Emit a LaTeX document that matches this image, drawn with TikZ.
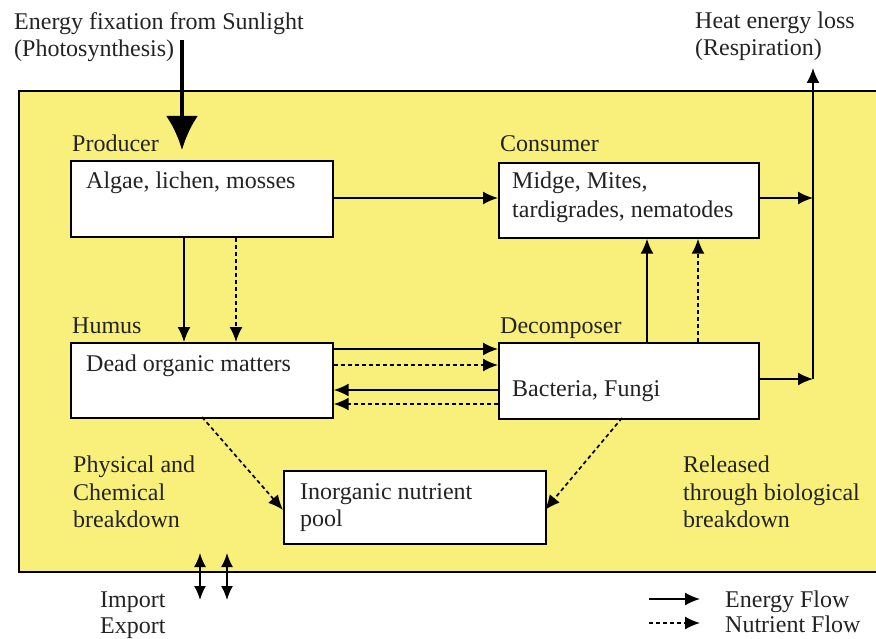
\documentclass[tikz,border=0pt]{standalone}
\usepackage{fontspec}
\setmainfont{Liberation Serif}
\usetikzlibrary{arrows.meta}
\definecolor{bgyellow}{RGB}{248,240,122}
\definecolor{txt}{RGB}{35,35,35}
\begin{document}
\begin{tikzpicture}[x=1pt,y=-1pt,
  box/.style={draw=black, line width=1.7pt, fill=white, anchor=north west, inner sep=0pt},
  lbl/.style={anchor=base west, inner sep=0pt, text=txt, font=\fontsize{24}{28}\selectfont},
  en/.style={line width=1.7pt, -{Latex[length=15pt,width=13pt]}},
  nu/.style={en, dash pattern=on 4pt off 3pt},
  ie/.style={line width=1.7pt, {Latex[length=14pt,width=12pt]}-{Latex[length=14pt,width=12pt]}},
]
\useasboundingbox (0,0) rectangle (876,639);
% background panel
\fill[bgyellow] (19,91) rectangle (876,572);
\draw[line width=1.6pt] (876,91) -- (19,91) -- (19,572) -- (876,572);

% boxes
\node[box, minimum width=262pt, minimum height=76pt] (prod) at (70,160) {};
\node[box, minimum width=260pt, minimum height=75pt] (cons) at (498,162) {};
\node[box, minimum width=262pt, minimum height=75pt] (hum) at (70,342) {};
\node[box, minimum width=260pt, minimum height=76pt] (dec) at (498,342) {};
\node[box, minimum width=262pt, minimum height=73pt] (pool) at (283,470) {};

% texts
\node[lbl] (t1) at (14,30) {Energy fixation from Sunlight};
\node[lbl] (t2) at (14,57) {(Photosynthesis)};
\node[lbl] (t3) at (695,29) {Heat energy loss};
\node[lbl] (t4) at (695,56) {(Respiration)};
\node[lbl] (lprod) at (72,152) {Producer};
\node[lbl] (lcons) at (500,152) {Consumer};
\node[lbl] (lhum) at (72,333) {Humus};
\node[lbl] (ldec) at (500,333) {Decomposer};
\node[lbl] (tprod) at (86,189) {Algae, lichen, mosses};
\node[lbl] (tcons1) at (512,189) {Midge, Mites,};
\node[lbl] (tcons2) at (512,218) {tardigrades, nematodes};
\node[lbl] (thum) at (86,371) {Dead organic matters};
\node[lbl] (tdec) at (512,396) {Bacteria, Fungi};
\node[lbl] (tpool1) at (300,499) {Inorganic nutrient};
\node[lbl] (tpool2) at (300,526) {pool};
\node[lbl] (p1) at (73,472) {Physical and};
\node[lbl] (p2) at (73,500) {Chemical};
\node[lbl] (p3) at (73,527) {breakdown};
\node[lbl] (r1) at (683,472) {Released};
\node[lbl] (r2) at (683,500) {through biological};
\node[lbl] (r3) at (683,527) {breakdown};
\node[lbl] (imp) at (100,607) {Import};
\node[lbl] (exp) at (100,633) {Export};
\node[lbl] (lg1) at (725,607) {Energy Flow};
\node[lbl] (lg2) at (725,632) {Nutrient Flow};

% helper coordinates
\coordinate (sunA) at (182,40);
\coordinate (sunB) at (182,150);
\coordinate (xa) at (184,0);
\coordinate (xb) at (236,0);
\coordinate (xc) at (647,0);
\coordinate (xd) at (698,0);
\coordinate (ya) at (0,198);
\coordinate (y1) at (0,349);
\coordinate (y2) at (0,365);
\coordinate (y3) at (0,390);
\coordinate (y4) at (0,404);
\coordinate (yb) at (0,379);
\coordinate (heatTop) at (813,68);
\coordinate (heatBot) at (813,379);
\coordinate (humOut) at (202,417);
\coordinate (poolInL) at (283,510);
\coordinate (decOut) at (622,418);
\coordinate (poolInR) at (545,510);
\coordinate (ie1a) at (200,553);
\coordinate (ie1b) at (200,600);
\coordinate (ie2a) at (227,553);
\coordinate (ie2b) at (227,600);
\coordinate (lgAa) at (649,599);
\coordinate (lgAb) at (700,599);
\coordinate (lgBa) at (649,623);
\coordinate (lgBb) at (700,623);

% sunlight arrow
\draw[line width=4.5pt, -{Latex[length=34pt,width=32pt]}] (sunA) -- (sunB);

% producer -> consumer
\draw[en] (prod.east |- ya) -- (cons.west |- ya);
% producer -> humus
\draw[en] (prod.south -| xa) -- (hum.north -| xa);
\draw[nu] (prod.south -| xb) -- (hum.north -| xb);
% humus <-> decomposer
\draw[en] (hum.east |- y1) -- (dec.west |- y1);
\draw[nu] (hum.east |- y2) -- (dec.west |- y2);
\draw[en] (dec.west |- y3) -- (hum.east |- y3);
\draw[nu] (dec.west |- y4) -- (hum.east |- y4);
% decomposer -> consumer
\draw[en] (dec.north -| xc) -- (cons.south -| xc);
\draw[nu] (dec.north -| xd) -- (cons.south -| xd);
% respiration
\draw[en] (cons.east |- ya) -- (ya -| heatBot);
\draw[en] (dec.east |- yb) -- (heatBot);
\draw[en] (heatBot) -- (heatTop);
% to nutrient pool
\draw[nu] (humOut) -- (poolInL);
\draw[nu] (decOut) -- (poolInR);
% import / export
\draw[ie] (ie1a) -- (ie1b);
\draw[ie] (ie2a) -- (ie2b);
% legend
\draw[en] (lgAa) -- (lgAb);
\draw[nu] (lgBa) -- (lgBb);
\end{tikzpicture}
\end{document}
